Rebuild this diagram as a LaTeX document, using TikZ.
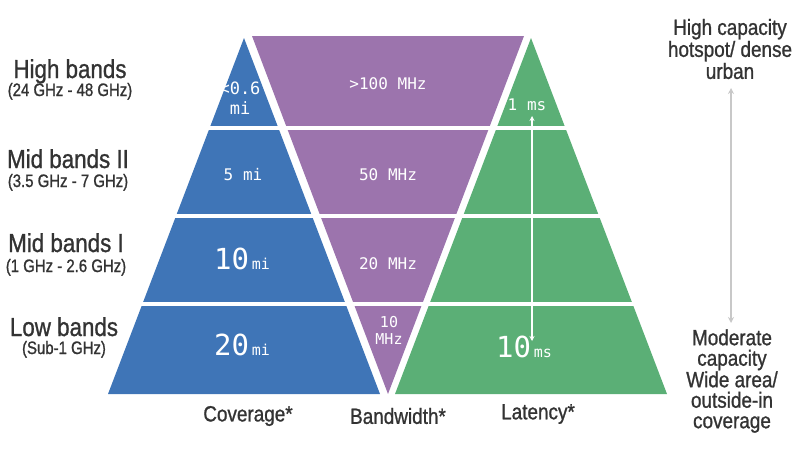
\documentclass[tikz,border=0pt]{standalone}
\usepackage{fontspec}
\usetikzlibrary{arrows.meta}
\newfontfamily\narrowfont{Liberation Sans}[FakeStretch=0.86,FakeBold=1]
\newfontfamily\subfont{Liberation Sans}[FakeStretch=0.83,FakeBold=1]
\newfontfamily\valfont{DejaVu Sans Mono}
\definecolor{covblue}{HTML}{3F75B7}
\definecolor{bwpurple}{HTML}{9C74AD}
\definecolor{latgreen}{HTML}{5BAF76}
\definecolor{darktext}{HTML}{333333}
\definecolor{arrowgray}{HTML}{C8C8C8}

\begin{document}
\begin{tikzpicture}[x=1pt,y=-1pt,
    band/.style={font=\narrowfont\fontsize{26}{28}\selectfont,text=darktext,inner sep=0pt,anchor=base},
    sub/.style={font=\subfont\fontsize{18}{20}\selectfont,text=darktext,inner sep=0pt,anchor=base},
    side/.style={font=\narrowfont\fontsize{22}{22}\selectfont,text=darktext,align=center,inner sep=0pt},
    val/.style={font=\valfont\fontsize{16}{18}\selectfont,text=white,align=center,inner sep=0pt}]
  \useasboundingbox (0,0) rectangle (800,448);
  % the three triangles
  \fill[covblue] (244,38) -- (380,394) -- (108,394) -- cycle;
  \fill[bwpurple] (252,36) -- (524,36) -- (388,394) -- cycle;
  \fill[latgreen] (531,38) -- (667,394) -- (395,394) -- cycle;
  \foreach \y in {128,216,304} {\draw[white,line width=3.5pt] (100,\y) -- (680,\y);}
  % band names (baselines)
  \foreach \m/\s/\x/\y/\z [count=\i from 1] in {High bands/{(24 GHz - 48 GHz)}/70/78/96,
      Mid bands II/{(3.5 GHz - 7 GHz)}/68/168/187, Mid bands I/{(1 GHz - 2.6 GHz)}/66/252/272,
      Low bands/{(Sub-1 GHz)}/64/336/354}
    {\node[band] (b\i) at (\x,\y) {\m};
     \node[sub] (s\i) at (\x,\z) {\s};}
  % coverage
  \node[val,font=\valfont\fontsize{17}{20}\selectfont] (cov1) at (240,98) {<0.6\\mi};
  \node[val] (cov2) at (243,175) {5 mi};
  \node[val] (cov3) at (242,259) {{\fontsize{29}{29}\selectfont 10}\,{\fontsize{15}{15}\selectfont mi}};
  \node[val] (cov4) at (242,345) {{\fontsize{29}{29}\selectfont 20}\,{\fontsize{15}{15}\selectfont mi}};
  % bandwidth
  \node[val] (bw1) at (388,84) {>100 MHz};
  \node[val] (bw2) at (388,175) {50 MHz};
  \node[val] (bw3) at (388,264) {20 MHz};
  \node[val,font=\valfont\fontsize{15}{17}\selectfont] (bw4) at (389,330) {10\\MHz};
  % latency
  \node[val] (lat1) at (527,105) {1 ms};
  \node[val] (lat4) at (524,347) {{\fontsize{29}{29}\selectfont 10}\,{\fontsize{15}{15}\selectfont ms}};
  \coordinate (lattop) at (532,116);
  \coordinate (latbot) at (532,341);
  \draw[white,line width=1.5pt,{Stealth[length=5pt,width=5pt]}-{Stealth[length=5pt,width=5pt]}] (lattop) -- (latbot);
  % column titles
  \node[side] (coverage) at (248,416) {Coverage*};
  \node[side] (bandwidth) at (398,416) {Bandwidth*};
  \node[side] (latency) at (538,414) {Latency*};
  % right side
  \node[side] (hicap) at (730,49) {High capacity\\hotspot/ dense\\urban};
  \node[side,font=\narrowfont\fontsize{22}{20.5}\selectfont] (modcap) at (732,381) {Moderate\\capacity\\Wide area/\\outside-in\\coverage};
  \coordinate (gtop) at (731,88);
  \coordinate (gbot) at (731,323);
  \draw[arrowgray,line width=2pt,{Stealth[length=6pt,width=6pt]}-{Stealth[length=6pt,width=6pt]}] (gtop) -- (gbot);
\end{tikzpicture}
\end{document}
